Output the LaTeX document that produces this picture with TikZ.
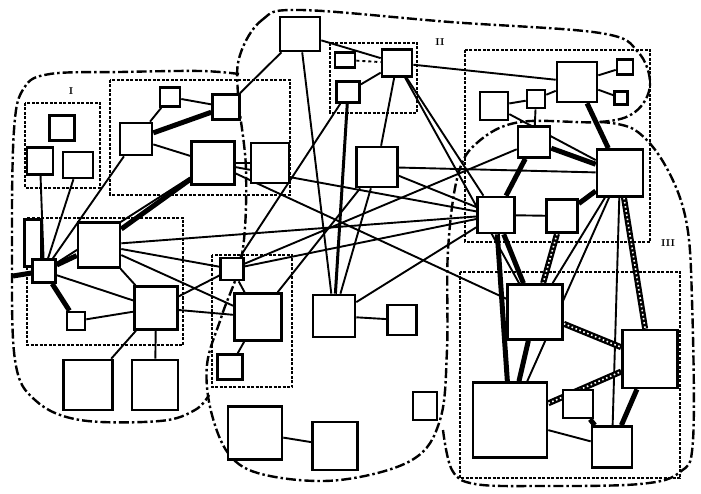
\documentclass[tikz,border=0pt]{standalone}
\usepackage{tikz}
\usetikzlibrary{positioning}
\pgfdeclarelayer{bg}
\pgfsetlayers{bg,main}
\tikzset{
  box/.style     = {rectangle, draw, fill=white, line width=2.6pt, inner sep=0pt},
  wh/.style 2 args = {minimum width=#1pt, minimum height=#2pt},
  link/.style    = {line width=1.9pt},
  heavy/.style   = {line width=5pt},
  hatched/.style = {line width=6pt,
                    postaction={draw=white, line width=1.6pt, dash pattern=on 1.6pt off 2.6pt}},
  group/.style   = {line width=1.6pt, dash pattern=on 3pt off 1.5pt},
  region/.style  = {line width=2.4pt, dash pattern=on 10pt off 3pt on 2.5pt off 3pt},
  tag/.style     = {font=\normalsize\bfseries}
}
\begin{document}
\begin{tikzpicture}[x=1pt, y=-1pt]
  \useasboundingbox (0,0) rectangle (701,494);
  % region I
  \node[box, wh={25}{25}] (a1) at (62,128) {};
  \node[box, wh={26}{27}] (a2) at (40,161) {};
  \node[box, wh={30}{26}] (a3) at (78,165) {};
  \node[box, wh={32}{32}] (a4) at (136,139) {};
  \node[box, wh={20}{19}] (a5) at (170,97) {};
  \node[box, wh={27}{25}] (a6) at (226,107) {};
  \node[box, wh={43}{43}] (a7) at (213,163) {};
  \node[box, wh={17}{47}] (a8) at (33,243) {};
  \node[box, wh={23}{23}] (a9) at (44,271) {};
  \node[box, wh={42}{45}] (a10) at (99,245) {};
  \node[box, wh={18}{18}] (a11) at (76,321) {};
  \node[box, wh={43}{43}] (a12) at (156,308) {};
  \node[box, wh={49}{50}] (a13) at (88,385) {};
  \node[box, wh={46}{50}] (a14) at (155,385) {};
  % region II
  \node[box, wh={40}{34}] (b1) at (300,34) {};
  \node[box, wh={20}{15}] (b2) at (345,60) {};
  \node[box, wh={23}{21}] (b3) at (348,92) {};
  \node[box, wh={30}{27}] (b4) at (397,63) {};
  \node[box, wh={38}{40}] (b5) at (270,163) {};
  \node[box, wh={41}{40}] (b6) at (377,167) {};
  \node[box, wh={23}{22}] (b7) at (232,269) {};
  \node[box, wh={47}{47}] (b8) at (258,317) {};
  \node[box, wh={25}{25}] (b9) at (230,367) {};
  \node[box, wh={42}{42}] (b10) at (334,316) {};
  \node[box, wh={29}{30}] (b11) at (402,320) {};
  \node[box, wh={24}{28}] (b12) at (425,406) {};
  \node[box, wh={54}{53}] (b13) at (255,433) {};
  \node[box, wh={45}{48}] (b14) at (335,446) {};
  % region III
  \node[box, wh={40}{40}] (c1) at (577,82) {};
  \node[box, wh={16}{15}] (c2) at (625,67) {};
  \node[box, wh={13}{13}] (c3) at (621,98) {};
  \node[box, wh={28}{28}] (c4) at (494,106) {};
  \node[box, wh={18}{18}] (c5) at (536,99) {};
  \node[box, wh={32}{31}] (c6) at (534,142) {};
  \node[box, wh={46}{47}] (c7) at (620,173) {};
  \node[box, wh={37}{36}] (c8) at (496,215) {};
  \node[box, wh={31}{33}] (c9) at (562,216) {};
  \node[box, wh={55}{55}] (c10) at (535,312) {};
  \node[box, wh={55}{58}] (c11) at (650,359) {};
  \node[box, wh={74}{75}] (c12) at (510,420) {};
  \node[box, wh={30}{28}] (c13) at (578,404) {};
  \node[box, wh={40}{41}] (c14) at (612,447) {};
  \coordinate (edgeI) at (13,276);
  \node[tag] (tagI) at (71,91) {I};
  \node[tag] (tagII) at (440,42) {II};
  \node[tag] (tagIII) at (668,243) {III};

  \begin{pgfonlayer}{bg}
    \draw[region] plot[smooth cycle, tension=0.6] coordinates {(240,55) (262,20) (300,10)
      (450,22) (600,33) (638,52) (650,85) (635,112) (600,122) (520,122) (478,142)
      (458,175) (448,250) (447,350) (440,420) (412,460) (340,480) (270,476) (232,458)
      (212,415) (207,365) (222,315) (242,255) (246,170) (238,95)};
    \draw[region] plot[smooth, tension=0.6] coordinates {(239,74) (200,71) (120,72)
      (50,74) (24,88) (14,130) (12,250) (15,360) (35,400) (80,420) (160,421) (195,410) (209,395)};
    \draw[region] plot[smooth, tension=0.6] coordinates {(600,122) (635,130) (665,165)
      (686,220) (692,300) (693,440) (680,472) (640,484) (540,486) (475,484) (452,470) (443,430)};
    \draw[group] (25,103) rectangle (100,188);
    \draw[group] (110,80) rectangle (290,195);
    \draw[group] (27,218) rectangle (183,345);
    \draw[group] (330,43) rectangle (417,113);
    \draw[group] (212,255) rectangle (292,387);
    \draw[group] (465,50) rectangle (650,242);
    \draw[group] (460,272) rectangle (680,478);
    % region I links
    \draw[link] (a4) -- (a5);
    \draw[link] (a5) -- (a6);
    \draw[heavy] (a4) -- (a6);
    \draw[link] (a4) -- (a7);
    \draw[link] (a9) -- (a2);
    \draw[link] (a9) -- (a3);
    \draw[link] (a9) -- (a4);
    \draw[link] (a9) -- (a7);
    \draw[heavy] (a7) -- (a10);
    \draw[heavy] (a9) -- (a10);
    \draw[heavy] (a9) -- (a11);
    \draw[heavy] (a9) -- (edgeI);
    \draw[link] (a9) -- (a12);
    \draw[link] (a11) -- (a12);
    \draw[link] (a10) -- (a12);
    \draw[link] (a12) -- (a13);
    \draw[link] (a12) -- (a14);
    \draw[link] (a12) -- (b8);
    \draw[link] (a12) -- (b7);
    \draw[link] (a10) -- (b7);
    \draw[link] (a10) -- (b8);
    \draw[link] (a10) -- (c8);
    % across the middle
    \draw[link] (a7) -- (b5);
    \draw[link] (a7) -- (c8);
    \draw[link] (a7) -- (c10);
    \draw[link] (b1) -- (a6);
    \draw[link] (b1) -- (b4);
    \draw[link] (b1) -- (b10);
    \draw[line width=3pt] (b3) -- (b10);
    \draw[link] (b3) -- (b7);
    \draw[link] (b3) -- (b4);
    \draw[link, dashed] (b2) -- (b4);
    \draw[link] (b4) -- (b6);
    \draw[link] (b4) -- (c1);
    \draw[link] (b4) -- (c8);
    \draw[link] (b4) -- (c10);
    \draw[link] (b6) -- (c7);
    \draw[link] (b6) -- (c8);
    \draw[link] (b6) -- (b10);
    \draw[link] (b8) -- (b6);
    \draw[link] (b7) -- (c6);
    \draw[link] (b7) -- (c8);
    \draw[link] (b10) -- (c8);
    \draw[link] (b7) -- (b8);
    \draw[link] (b8) -- (b9);
    \draw[link] (b10) -- (b11);
    \draw[link] (b13) -- (b14);
    % region III links
    \draw[link] (c4) -- (c5);
    \draw[link] (c5) -- (c1);
    \draw[link] (c1) -- (c2);
    \draw[link] (c1) -- (c3);
    \draw[link] (c5) -- (c6);
    \draw[link] (c4) -- (c7);
    \draw[heavy] (c6) -- (c8);
    \draw[heavy] (c6) -- (c7);
    \draw[heavy] (c1) -- (c7);
    \draw[link] (c8) -- (c9);
    \draw[heavy] (c9) -- (c7);
    \draw[heavy] (c8) -- (c10);
    \draw[hatched] (c9) -- (c10);
    \draw[heavy] (c8) -- (c12);
    \draw[link] (c7) -- (c10);
    \draw[hatched] (c7) -- (c11);
    \draw[link] (c7) -- (c12);
    \draw[link] (c7) -- (c14);
    \draw[hatched] (c10) -- (c11);
    \draw[heavy] (c10) -- (c12);
    \draw[hatched] (c12) -- (c11);
    \draw[heavy] (c11) -- (c14);
    \draw[heavy] (c13) -- (c14);
    \draw[link] (c12) -- (c14);
  \end{pgfonlayer}
\end{tikzpicture}
\end{document}
